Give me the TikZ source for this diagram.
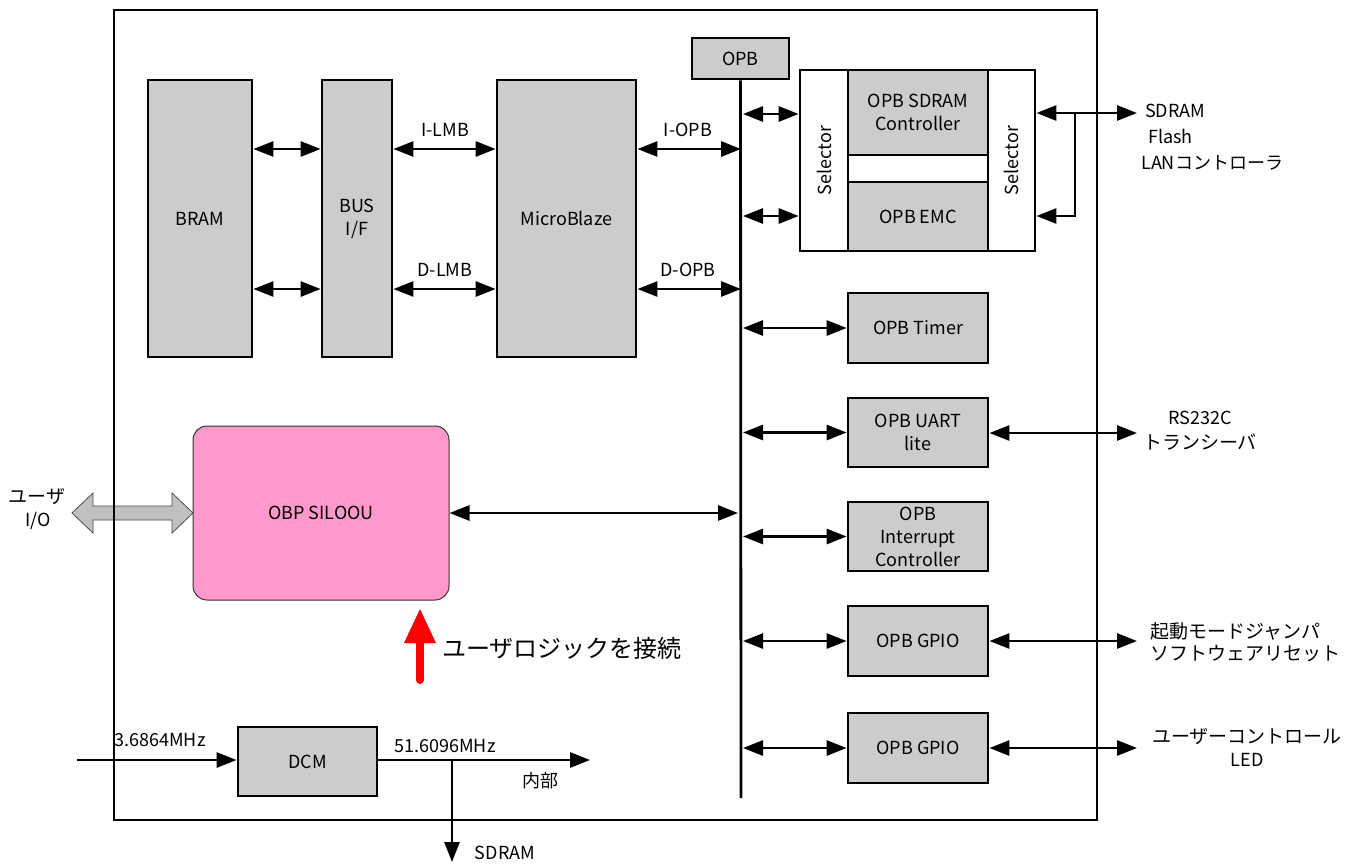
\documentclass[tikz,border=0pt]{standalone}
\usepackage{fontspec}
\setmainfont{Noto Sans CJK JP}
\usetikzlibrary{arrows.meta}
\definecolor{boxgray}{HTML}{CCCCCC}
\definecolor{pinkbox}{HTML}{FF99CC}
\definecolor{fatgray}{HTML}{C0C0C0}
\newcommand\fz[2]{\fontsize{#1}{#2}\selectfont}
\begin{document}
\begin{tikzpicture}[x=1pt,y=-1pt,
  blk/.style={draw, line width=2.8pt, fill=boxgray, inner sep=0pt, align=center, font=\fz{18}{23}},
  wblk/.style={draw, line width=2.8pt, fill=white, inner sep=0pt, font=\fz{18}{23}},
  arr/.style={line width=2.8pt, {Triangle[length=20pt,width=15pt]}-{Triangle[length=20pt,width=15pt]}},
  rarr/.style={line width=2.8pt, -{Triangle[length=20pt,width=15pt]}},
  lbl/.style={font=\fz{18}{23}, inner sep=0pt, align=center},
  jlbl/.style={font=\fz{19}{24}, inner sep=0pt}]
\useasboundingbox (0,0) rectangle (1362,864);

% fat gray user I/O arrow (behind frame)
\draw[fill=fatgray, draw=gray!60!black, line width=0.8pt]
  (72,513) -- (93,493) -- (93,506) -- (172,506) -- (172,493) -- (193,513)
  -- (172,533) -- (172,520) -- (93,520) -- (93,533) -- cycle;

% outer frame
\draw[line width=2.8pt] (114,10) rectangle (1097,820);

% row coordinates
\coordinate (r1) at (0,149);
\coordinate (r2) at (0,289);
\coordinate (r3) at (0,114);
\coordinate (r4) at (0,216);
\coordinate (busx) at (741,0);
\coordinate (busR) at (743,0);

% top blocks
\node[blk, minimum width=104pt, minimum height=277pt] (BRAM) at (200,218.5) {BRAM};
\node[blk, minimum width=70pt, minimum height=277pt] (BUS) at (357,218.5) {BUS\\I/F};
\node[blk, minimum width=139pt, minimum height=277pt] (MB) at (566.5,218.5) {MicroBlaze};
\node[blk, minimum width=97pt, minimum height=41pt] (OPB) at (740.5,58.5) {OPB};

% OPB bus line
\coordinate (busB) at (741,798);
\draw[line width=2.8pt] (OPB.south) -- (busB);

% selector group
\node[wblk, minimum width=48pt, minimum height=181pt] (LSel) at (824,160.5) {};
\node[rotate=90, font=\fz{18}{23}] at (LSel) {Selector};
\node[wblk, minimum width=47pt, minimum height=181pt] (RSel) at (1011.5,160.5) {};
\node[rotate=90, font=\fz{18}{23}] at (RSel) {Selector};
\node[blk, minimum width=140pt, minimum height=85pt] (SDC) at (918,112.5) {OPB SDRAM\\Controller};
\node[blk, minimum width=140pt, minimum height=69pt] (EMC) at (918,216.5) {OPB EMC};

% peripheral blocks
\node[blk, minimum width=140pt, minimum height=70pt] (TMR) at (918,328) {OPB Timer};
\node[blk, minimum width=140pt, minimum height=69pt] (UART) at (918,432.5) {OPB UART\\lite};
\node[blk, minimum width=140pt, minimum height=69pt] (INTC) at (918,536.5) {OPB\\Interrupt\\Controller};
\node[blk, minimum width=140pt, minimum height=70pt] (GPIO1) at (918,641) {OPB GPIO};
\node[blk, minimum width=140pt, minimum height=70pt] (GPIO2) at (918,748) {OPB GPIO};

% user logic block
\node[draw=black!80, line width=1pt, fill=pinkbox, rounded corners=14pt,
      minimum width=256pt, minimum height=174pt, font=\fz{18}{23}] (SIL) at (321,513) {OBP SILOOU};

% DCM
\node[blk, minimum width=139pt, minimum height=69pt] (DCM) at (307.5,761.5) {DCM};

% arrows in top row
\draw[arr] (BRAM.east |- r1) -- (BUS.west |- r1);
\draw[arr] (BRAM.east |- r2) -- (BUS.west |- r2);
\draw[arr] (BUS.east |- r1) -- (MB.west |- r1);
\draw[arr] (BUS.east |- r2) -- (MB.west |- r2);
\draw[arr] (MB.east |- r1) -- (busx |- r1);
\draw[arr] (MB.east |- r2) -- (busx |- r2);
\node[lbl] at (445,130) {I-LMB};
\node[lbl] at (445,270) {D-LMB};
\node[lbl] at (688,130) {I-OPB};
\node[lbl] at (688,270) {D-OPB};

% bus to selector
\draw[arr] (busR |- r3) -- (LSel.west |- r3);
\draw[arr] (busR |- r4) -- (LSel.west |- r4);

% right selector to external
\coordinate (ext1) at (1137,113);
\coordinate (br) at (1075,113);
\draw[arr] (RSel.east |- ext1) -- (ext1);
\draw[rarr] (br) -- (br |- r4) -- (RSel.east |- r4);
\node[lbl, anchor=west] at (1145,111) {SDRAM};
\node[lbl, anchor=west] at (1148,136) {Flash};
\node[lbl, anchor=west, font=\fz{18}{23}] at (1141,163) {LANコントローラ};

% bus to peripherals
\draw[arr] (busR |- TMR) -- (TMR.west);
\draw[arr] (busR |- UART) -- (UART.west);
\draw[arr] (busR |- INTC) -- (INTC.west);
\draw[arr] (busR |- GPIO1) -- (GPIO1.west);
\draw[arr] (busR |- GPIO2) -- (GPIO2.west);
\coordinate (busL) at (738,0);
\draw[arr] (SIL.east) -- (busL |- SIL);

% peripherals to external
\coordinate (ext2) at (1137,433);
\coordinate (ext3) at (1137,641);
\coordinate (ext4) at (1137,748);
\draw[arr] (UART.east |- ext2) -- (ext2);
\draw[arr] (GPIO1.east |- ext3) -- (ext3);
\draw[arr] (GPIO2.east |- ext4) -- (ext4);
\node[lbl] at (1200,418) {RS232C};
\node[jlbl] at (1200,442) {トランシーバ};
\node[jlbl, anchor=west] at (1150,631) {起動モードジャンパ};
\node[jlbl, anchor=west] at (1150,654) {ソフトウェアリセット};
\node[jlbl] at (1247,737) {ユーザーコントロール};
\node[lbl] at (1247,760) {LED};

% user I/O label
\node[jlbl] at (37,497) {ユーザ};
\node[lbl] at (38,521) {I/O};

% red arrow
\draw[red, line width=8pt, line cap=round] (420,680) -- (420,640);
\fill[red] (420,609) -- (436,643) -- (404,643) -- cycle;
\node[font=\fz{24}{28}, anchor=west, inner sep=0pt] at (442,648) {ユーザロジックを接続};

% clock
\coordinate (clkin) at (77,760);
\coordinate (clkout) at (590,760);
\coordinate (tap) at (452,760);
\coordinate (sdclk) at (452,862);
\draw[rarr] (clkin) -- (DCM.west |- clkin);
\draw[rarr] (DCM.east |- clkout) -- (clkout);
\draw[rarr] (tap) -- (sdclk);
\node[lbl] at (160,740) {3.6864MHz};
\node[lbl] at (445,746) {51.6096MHz};
\node[jlbl, font=\fz{18}{23}] at (540,781) {内部};
\node[lbl] at (505,853) {SDRAM};
\end{tikzpicture}
\end{document}
